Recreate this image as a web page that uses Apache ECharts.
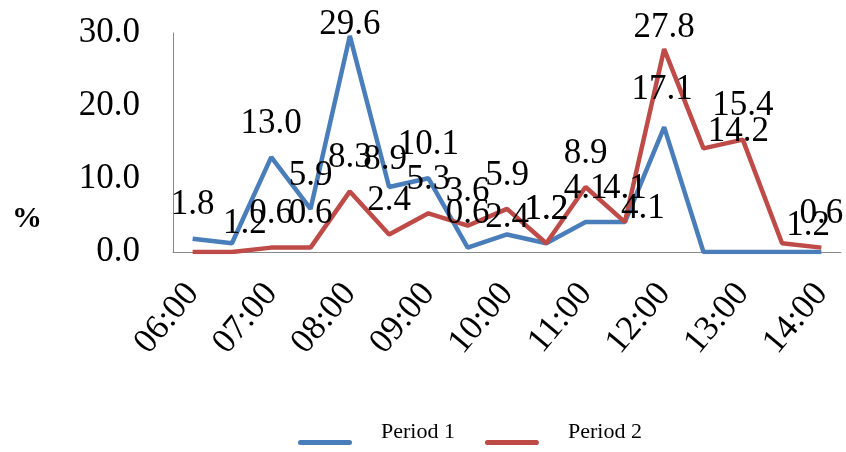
<!DOCTYPE html>
<html>
<head>
<meta charset="utf-8">
<script src="https://cdn.jsdelivr.net/npm/echarts@6/dist/echarts.min.js"></script>
<style>html,body{margin:0;padding:0;background:#fff}#c{width:846px;height:452px}</style>
</head>
<body>
<div id="c"></div>
<script>
const categories = ['06:00','06:30','07:00','07:30','08:00','08:30','09:00','09:30','10:00','10:30','11:00','11:30','12:00','12:30','13:00','13:30','14:00'];
const period1 = [1.8, 1.2, 13.0, 5.9, 29.6, 8.9, 10.1, 0.6, 2.4, 1.2, 4.1, 4.1, 17.1, 0, 0, 0, 0];
const period2 = [0, 0, 0.6, 0.6, 8.3, 2.4, 5.3, 3.6, 5.9, 1.2, 8.9, 4.1, 27.8, 14.2, 15.4, 1.2, 0.6];
const yTicks = [0, 10, 20, 30];
const seriesNames = ['Period 1', 'Period 2'];

// label nudges (pixels) copied from the reference's manual label placement
const labelNudge1 = {1: [13, 14], 4: [0, 22], 5: [-4, 6], 8: [0, 17], 12: [-2, -4]};
const labelNudge2 = {11: [18, 20], 12: [0, 12], 13: [35, 17], 15: [26, 16]};

const FONT = '"Liberation Serif", "Times New Roman", serif';
const chart = echarts.init(document.getElementById('c'), null, {renderer: 'canvas'});

function mkSeries(name, values, color, nudges) {
  return {
    name: name,
    type: 'line',
    data: values,
    symbol: 'circle',
    symbolSize: 0.1,
    showSymbol: true,
    showAllSymbol: true,
    lineStyle: {width: 4.5, color: color},
    itemStyle: {color: color},
    label: {
      show: true,
      position: 'top',
      distance: 16,
      color: '#000',
      fontFamily: FONT,
      fontSize: 35,
      formatter: p => (p.value > 0 ? p.value.toFixed(1) : '')
    },
    labelLayout: p => {
      const n = nudges[p.dataIndex];
      return n ? {dx: n[0], dy: n[1], hideOverlap: false} : {hideOverlap: false};
    },
    z: 2
  };
}

chart.setOption({
  animation: false,
  backgroundColor: '#fff',
  grid: {left: 173, right: 5, top: 33, bottom: 200, containLabel: false},
  legend: {
    data: seriesNames,
    top: 415,
    left: 293,
    icon: 'path://M0,0 L0.01,0 L0,0.01 Z M2.5,20 L51.5,20 A2.5,2.5 0 0 1 51.5,25 L2.5,25 A2.5,2.5 0 0 1 2.5,20 Z',
    itemWidth: 54,
    itemHeight: 25,
    itemGap: 30,
    textStyle: {fontFamily: FONT, fontSize: 22, color: '#000', padding: [0, 0, 0, 24]}
  },
  graphic: [{
    type: 'text', left: 12, top: 204,
    style: {text: '%', font: 'bold 30px ' + FONT, fill: '#000'}
  }],
  xAxis: {
    type: 'category',
    data: categories,
    boundaryGap: true,
    axisLine: {lineStyle: {color: '#888', width: 1}},
    axisTick: {show: false},
    axisLabel: {interval: 1, rotate: 50, margin: 36, fontFamily: FONT, fontSize: 35, color: '#000'}
  },
  yAxis: {
    type: 'value',
    min: yTicks[0],
    max: yTicks[yTicks.length - 1],
    interval: 10,
    splitLine: {show: false},
    axisLine: {show: true, lineStyle: {color: '#888', width: 1}},
    axisTick: {show: false},
    axisLabel: {margin: 33, fontFamily: FONT, fontSize: 35, color: '#000', formatter: v => v.toFixed(1)}
  },
  series: [
    mkSeries(seriesNames[0], period1, '#4a7ebb', labelNudge1),
    mkSeries(seriesNames[1], period2, '#be4b48', labelNudge2)
  ]
});
</script>
</body>
</html>
